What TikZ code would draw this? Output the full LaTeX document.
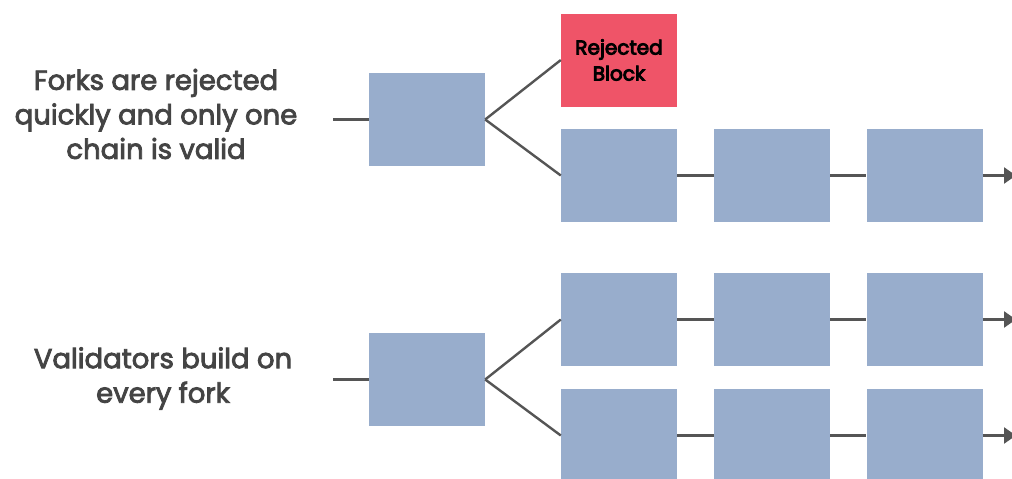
\documentclass[tikz,border=0pt]{standalone}
\usepackage{fontspec}
\setmainfont{Poppins}
\newfontfamily\medfont[FakeBold=3]{Poppins}
\newfontfamily\semifont[FakeBold=4.5]{Poppins}
\usetikzlibrary{arrows.meta}
\definecolor{blk}{HTML}{98ADCC}
\definecolor{rej}{HTML}{EF5468}
\definecolor{ln}{HTML}{555555}
\definecolor{txt}{HTML}{444444}
\begin{document}
\begin{tikzpicture}[x=1pt,y=-1pt,
  blockbox/.style={rectangle,fill=blk,minimum width=116pt,minimum height=93pt,inner sep=0pt},
  rejbox/.style={blockbox,fill=rej,font=\semifont\fontsize{20}{25}\selectfont,text=black,align=center},
  conn/.style={draw=ln,line width=2.4pt},
  arr/.style={conn,-{Triangle[length=12pt,width=16pt]}},
  label/.style={font=\medfont\fontsize{27.5}{34.5}\selectfont,text=txt,align=center}]
\useasboundingbox (0,0) rectangle (1012,479);
\clip (0,0) rectangle (1012,479);
% top
\node[label] (t1) at (156,114) {Forks are rejected\\quickly and only one\\chain is valid};
\node[blockbox] (a1) at (427,119.5) {};
\node[rejbox] (r) at (619,60) {\raisebox{-2.5pt}{\shortstack{Rejected\\[3pt]Block}}};
\node[blockbox] (b1) at (619,175.5) {};
\node[blockbox] (b2) at (772,175.5) {};
\node[blockbox] (b3) at (924.5,175.5) {};
\coordinate (ain) at (333,119.5);
\coordinate (bout) at (1016,175.5);
\draw[conn] (ain) -- (a1.west);
\draw[conn] (a1.east) -- (r.west);
\draw[conn] (a1.east) -- (b1.west);
\draw[conn] (b1) -- (b2);
\draw[conn] (b2) -- (b3);
\draw[arr] (b3.east) -- (bout);
% bottom
\node[label] (t2) at (163,378.5) {Validators build on\\every fork};
\node[blockbox] (c) at (427,379.5) {};
\node[blockbox] (d1) at (619,319.5) {};
\node[blockbox] (d2) at (772,319.5) {};
\node[blockbox] (d3) at (924.5,319.5) {};
\node[blockbox] (e1) at (619,435.5) {};
\node[blockbox] (e2) at (772,435.5) {};
\node[blockbox] (e3) at (924.5,435.5) {};
\coordinate (cin) at (333,379.5);
\coordinate (dout) at (1016,319.5);
\coordinate (eout) at (1016,435.5);
\draw[conn] (cin) -- (c.west);
\draw[conn] (c.east) -- (d1.west);
\draw[conn] (c.east) -- (e1.west);
\draw[conn] (d1) -- (d2);
\draw[conn] (d2) -- (d3);
\draw[arr] (d3.east) -- (dout);
\draw[conn] (e1) -- (e2);
\draw[conn] (e2) -- (e3);
\draw[arr] (e3.east) -- (eout);
\end{tikzpicture}
\end{document}
